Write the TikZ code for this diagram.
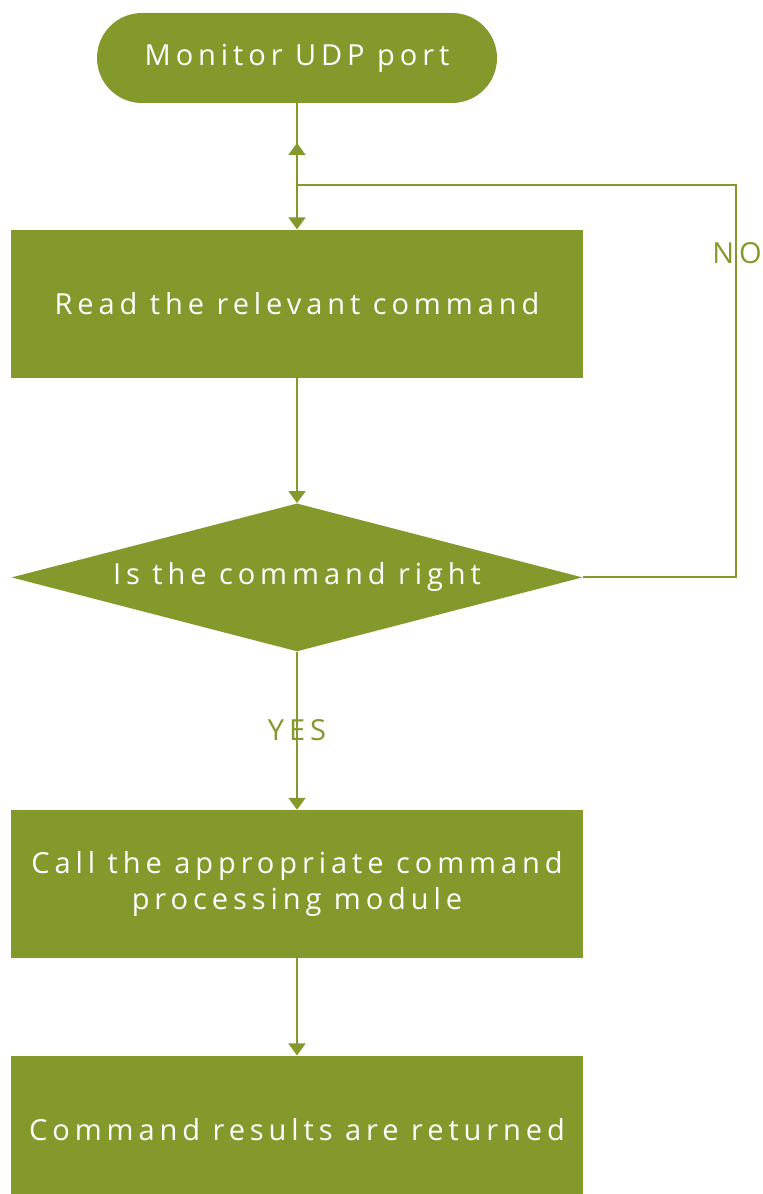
\documentclass[tikz,border=0pt]{standalone}
\usepackage{fontspec}
\setmainfont{Open Sans}[LetterSpace=17]
\usepackage{tikz}
\usetikzlibrary{
	positioning,    % nodi uno sotto l'altro
	arrows.meta,    % punte Triangle
	shapes.geometric % rombo della decisione
}
\definecolor{oliva}{RGB}{132,153,43}

\begin{document}
\begin{tikzpicture}[
	testo/.style={font=\fontsize{16.5}{20.5}\selectfont},
	blocco/.style={testo, fill=oliva, text=white, minimum width=11.44cm,
		minimum height=2.96cm, inner sep=0pt, align=center},
	inizio/.style={testo, fill=oliva, text=white, rounded corners=9mm,
		minimum width=8cm, minimum height=1.8cm, inner sep=0pt},
	decisione/.style={testo, diamond, fill=oliva, text=white, aspect=3.86,
		minimum width=11.42cm, minimum height=2.96cm, inner sep=0pt},
	freccia/.style={draw=oliva, line width=1.1pt, -{Triangle[length=2.4mm, width=3.4mm]}},
	etichetta/.style={testo, text=oliva}
	]
	
	% --- Area del disegno ---
	\useasboundingbox (0,0) rectangle (15.24,-23.88);
	\clip (0,0) rectangle (15.24,-23.88);
	
	% --- Blocchi ---
	\node[inizio] (start) at (5.94,-1.16) {Monitor UDP port};
	\node[blocco, below=2.52cm of start] (read) {Read the relevant command};
	\node[decisione, below=2.5cm of read] (check) {Is the command right};
	\node[blocco, below=3.16cm of check] (call) {Call the appropriate command\\processing module};
	\node[blocco, below=1.94cm of call] (ret) {Command results are returned};
	
	% --- Punti del ramo NO ---
	\coordinate (giro) at (14.72,-3.70);
	\coordinate (ritorno) at (5.94,-2.86);
	
	% --- Frecce ---
	\draw[freccia] (start.south) -- (read.north);
	\draw[freccia] (read.south) -- (check.north);
	\draw[freccia] (check.south) -- (call.north);
	\draw[freccia] (call.south) -- (ret.north);
	\draw[freccia] (check.east) -| (giro) -- (giro -| start.south) -- (ritorno);
	
	% --- Etichette ---
	\node[etichetta] (no) at (14.74,-5.06) {NO};
	\node[etichetta] (yes) at (5.94,-14.60) {YES};
	
\end{tikzpicture}
\end{document}
